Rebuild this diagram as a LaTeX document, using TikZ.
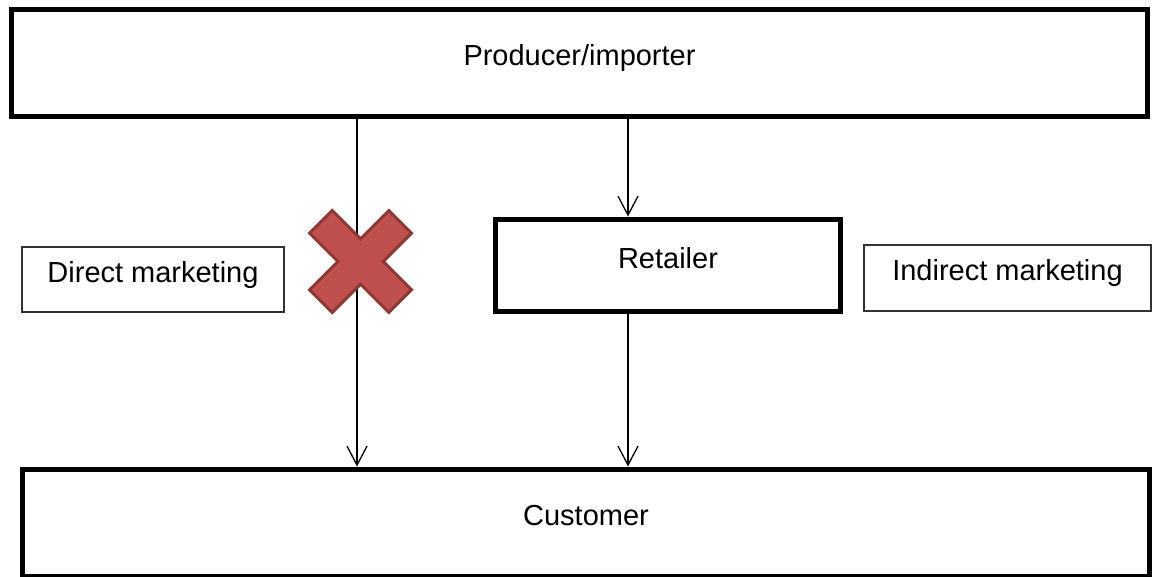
\documentclass[tikz,border=0pt]{standalone}
\usepackage{fontspec}
\setmainfont{Liberation Sans}
\usepackage{xcolor}
\usetikzlibrary{arrows.meta}

\definecolor{crossred}{RGB}{192,80,77}
\definecolor{crossedge}{RGB}{140,56,54}

\begin{document}
\begin{tikzpicture}[x=0.02cm, y=-0.02cm,
        boldbox/.style={rectangle, draw=black, line width=0.1cm, inner sep=0pt, font=\fontsize{16.5}{20}\selectfont, text height=0.72em, text depth=0.4em},
        thinbox/.style={rectangle, draw=black!80, line width=0.024cm, inner sep=0pt, font=\fontsize{16.5}{20}\selectfont, text height=0.72em, text depth=0.4em}
        ]
            \useasboundingbox (0,0) rectangle (1153,577);
            \node[boldbox, minimum width=22.74cm, minimum height=2.16cm] (prod) at (579.5,63) {Producer/importer};
            \node[boldbox, minimum width=22.56cm, minimum height=2.16cm] (cust) at (586,523) {Customer};
            \node[boldbox, minimum width=6.92cm, minimum height=1.86cm] (ret) at (668,265.5) {Retailer};
            \node[thinbox, minimum width=5.24cm, minimum height=1.3cm] (direct) at (153,279.5) {Direct marketing};
            \node[thinbox, minimum width=5.74cm, minimum height=1.32cm] (indirect) at (1007.5,278) {Indirect marketing};
            \coordinate (lx) at (357,0);
            \coordinate (rx) at (628,0);

            \tikzset{flow/.style={-{Straight Barb[length=0.38cm, width=0.4cm]}, line width=0.026cm}}

            \draw[flow] (prod.south -| lx) -- (cust.north -| lx);
            \draw[flow] (prod.south -| rx) -- (ret.north -| rx);
            \draw[flow] (ret.south -| rx) -- (cust.north -| rx);

            \filldraw[fill=crossred, draw=crossedge, line width=0.06cm, shift={(360.5,261.5)}, rotate=45]
                (16,56) -- (16,16) -- (56,16) -- (56,-16) -- (16,-16) -- (16,-56)
                -- (-16,-56) -- (-16,-16) -- (-56,-16) -- (-56,16) -- (-16,16) -- (-16,56) -- cycle;

        \end{tikzpicture}
\end{document}
